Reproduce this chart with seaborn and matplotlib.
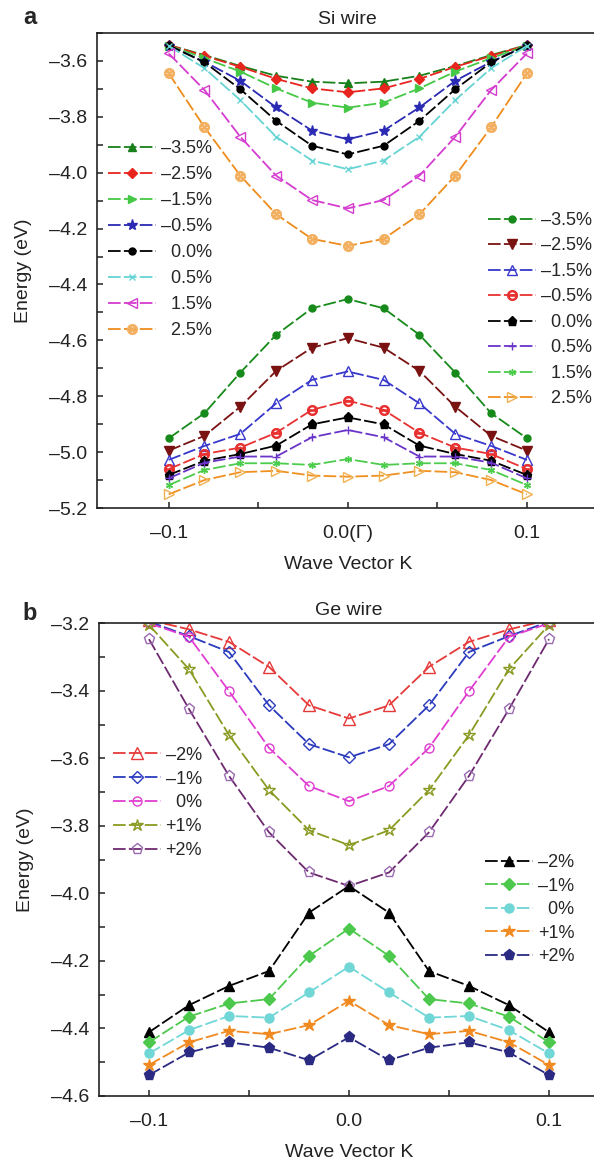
import matplotlib
matplotlib.use("Agg")
import matplotlib.pyplot as plt
import seaborn as sns
from matplotlib.ticker import MultipleLocator

sns.set_style("ticks")
plt.rcParams['font.family'] = ['Liberation Sans', 'DejaVu Sans']
plt.rcParams['mathtext.fontset'] = 'dejavusans'

# ---------------- data ----------------
k_points = [-0.1, -0.08, -0.06, -0.04, -0.02, 0.0, 0.02, 0.04, 0.06, 0.08, 0.1]

si_cb_labels = ["–3.5%", "–2.5%", "–1.5%", "–0.5%", "\u20070.0%", "\u20070.5%", "\u20071.5%", "\u20072.5%"]
si_cb_m35 = [-3.544, -3.580, -3.619, -3.654, -3.675, -3.681, -3.675, -3.654, -3.619, -3.580, -3.544]
si_cb_m25 = [-3.544, -3.583, -3.622, -3.665, -3.699, -3.713, -3.699, -3.665, -3.622, -3.583, -3.544]
si_cb_m15 = [-3.546, -3.591, -3.639, -3.699, -3.750, -3.768, -3.750, -3.699, -3.639, -3.591, -3.546]
si_cb_m05 = [-3.546, -3.604, -3.672, -3.767, -3.850, -3.881, -3.850, -3.767, -3.672, -3.604, -3.546]
si_cb_p00 = [-3.545, -3.606, -3.702, -3.815, -3.904, -3.935, -3.904, -3.815, -3.702, -3.606, -3.545]
si_cb_p05 = [-3.547, -3.627, -3.741, -3.872, -3.957, -3.988, -3.957, -3.872, -3.741, -3.627, -3.547]
si_cb_p15 = [-3.574, -3.705, -3.872, -4.011, -4.098, -4.128, -4.098, -4.011, -3.872, -3.705, -3.574]
si_cb_p25 = [-3.645, -3.838, -4.011, -4.149, -4.237, -4.262, -4.237, -4.149, -4.011, -3.838, -3.645]

si_vb_labels = ["–3.5%", "–2.5%", "–1.5%", "–0.5%", "\u20070.0%", "\u20070.5%", "\u20071.5%", "\u20072.5%"]
si_vb_m35 = [-4.950, -4.860, -4.715, -4.580, -4.485, -4.452, -4.485, -4.580, -4.715, -4.860, -4.950]
si_vb_m25 = [-4.994, -4.941, -4.837, -4.709, -4.626, -4.592, -4.626, -4.709, -4.837, -4.941, -4.994]
si_vb_m15 = [-5.027, -4.977, -4.934, -4.825, -4.741, -4.711, -4.741, -4.825, -4.934, -4.977, -5.027]
si_vb_m05 = [-5.060, -5.006, -4.983, -4.930, -4.848, -4.815, -4.848, -4.930, -4.983, -5.006, -5.060]
si_vb_p00 = [-5.081, -5.030, -5.006, -4.976, -4.900, -4.875, -4.900, -4.976, -5.006, -5.030, -5.081]
si_vb_p05 = [-5.093, -5.037, -5.015, -5.015, -4.946, -4.920, -4.946, -5.015, -5.015, -5.037, -5.093]
si_vb_p15 = [-5.117, -5.063, -5.039, -5.039, -5.045, -5.024, -5.045, -5.039, -5.039, -5.063, -5.117]
si_vb_p25 = [-5.150, -5.099, -5.071, -5.066, -5.083, -5.087, -5.083, -5.066, -5.071, -5.099, -5.150]

ge_cb_labels = ["–2%", "–1%", "\u20070%", "+1%", "+2%"]
ge_cb_m2 = [-3.190, -3.218, -3.255, -3.329, -3.443, -3.482, -3.443, -3.329, -3.255, -3.218, -3.190]
ge_cb_m1 = [-3.195, -3.238, -3.285, -3.443, -3.558, -3.597, -3.558, -3.443, -3.285, -3.238, -3.195]
ge_cb_p0 = [-3.200, -3.240, -3.401, -3.569, -3.682, -3.727, -3.682, -3.569, -3.401, -3.240, -3.200]
ge_cb_p1 = [-3.205, -3.336, -3.531, -3.694, -3.813, -3.857, -3.813, -3.694, -3.531, -3.336, -3.205]
ge_cb_p2 = [-3.247, -3.454, -3.652, -3.819, -3.938, -3.978, -3.938, -3.819, -3.652, -3.454, -3.247]

ge_vb_labels = ["–2%", "–1%", "\u20070%", "+1%", "+2%"]
ge_vb_m2 = [-4.411, -4.331, -4.274, -4.230, -4.057, -3.978, -4.057, -4.230, -4.274, -4.331, -4.411]
ge_vb_m1 = [-4.441, -4.365, -4.326, -4.313, -4.185, -4.104, -4.185, -4.313, -4.326, -4.365, -4.441]
ge_vb_p0 = [-4.474, -4.405, -4.363, -4.368, -4.293, -4.217, -4.293, -4.368, -4.363, -4.405, -4.474]
ge_vb_p1 = [-4.508, -4.441, -4.407, -4.417, -4.390, -4.318, -4.390, -4.417, -4.407, -4.441, -4.508]
ge_vb_p2 = [-4.538, -4.471, -4.441, -4.457, -4.494, -4.426, -4.494, -4.457, -4.441, -4.471, -4.538]

si_xticks = [-0.1, 0.0, 0.1]
si_xtick_labels = ["–0.1", "0.0(Γ)", "0.1"]
ge_xticks = [-0.1, 0.0, 0.1]
ge_xtick_labels = ["–0.1", "0.0", "0.1"]
si_yticks = [-5.2, -5.0, -4.8, -4.6, -4.4, -4.2, -4.0, -3.8, -3.6]
si_ytick_labels = ["–5.2", "–5.0", "–4.8", "–4.6", "–4.4", "–4.2", "–4.0", "–3.8", "–3.6"]
ge_yticks = [-4.6, -4.4, -4.2, -4.0, -3.8, -3.6, -3.4, -3.2]
ge_ytick_labels = ["–4.6", "–4.4", "–4.2", "–4.0", "–3.8", "–3.6", "–3.4", "–3.2"]

# ---------------- styles ----------------
si_cb_series = [si_cb_m35, si_cb_m25, si_cb_m15, si_cb_m05, si_cb_p00, si_cb_p05, si_cb_p15, si_cb_p25]
si_cb_styles = [
    dict(color="#17801a", marker="^", mfc="#17801a", ms=6),
    dict(color="#e8241e", marker="D", mfc="#e8241e", ms=5.5),
    dict(color="#45c845", marker=">", mfc="#45c845", ms=6),
    dict(color="#2a2ab4", marker="*", mfc="#2a2ab4", ms=8),
    dict(color="#000000", marker="o", mfc="#000000", ms=5),
    dict(color="#66d4d4", marker="x", mfc="#66d4d4", ms=5),
    dict(color="#d43ccf", marker="<", mfc="none", ms=7),
    dict(color="#ee8c1c", marker="$\\otimes$", mfc="#f2b060", mec="#f2b060", ms=7),
]
si_vb_series = [si_vb_m35, si_vb_m25, si_vb_m15, si_vb_m05, si_vb_p00, si_vb_p05, si_vb_p15, si_vb_p25]
si_vb_styles = [
    dict(color="#168a1a", marker="o", mfc="#168a1a", ms=5),
    dict(color="#7a1212", marker="v", mfc="#7a1212", ms=6.5),
    dict(color="#3838cc", marker="^", mfc="none", ms=7),
    dict(color="#e83232", marker="$\\ominus$", mfc="#e83232", ms=7),
    dict(color="#000000", marker="p", mfc="#000000", ms=6.5),
    dict(color="#6a34c8", marker="+", mfc="#6a34c8", ms=6),
    dict(color="#4ccc4c", marker=(6, 2, 0), mfc="#4ccc4c", ms=5),
    dict(color="#f09020", marker=">", mfc="none", mec="#f0b050", ms=7),
]
ge_cb_series = [ge_cb_m2, ge_cb_m1, ge_cb_p0, ge_cb_p1, ge_cb_p2]
ge_cb_styles = [
    dict(color="#e63a3a", marker="^", mfc="none", ms=8),
    dict(color="#2b3bbd", marker="D", mfc="none", ms=6.5),
    dict(color="#e03ed0", marker="o", mfc="none", ms=6.5),
    dict(color="#8a9a22", marker="*", mfc="none", ms=9),
    dict(color="#6e2a70", marker="p", mfc="none", ms=8, mec="#9a6ab0"),
]
ge_vb_series = [ge_vb_m2, ge_vb_m1, ge_vb_p0, ge_vb_p1, ge_vb_p2]
ge_vb_styles = [
    dict(color="#000000", marker="^", mfc="#000000", ms=7.5),
    dict(color="#4cc84c", marker="D", mfc="#4cc84c", ms=6.5),
    dict(color="#70d6d6", marker="o", mfc="#70d6d6", ms=6.5),
    dict(color="#f08a20", marker="*", mfc="#f08a20", ms=9),
    dict(color="#2a2a82", marker="p", mfc="#2a2a82", ms=8),
]

DASH = (0, (7, 1.8))


def draw(ax, series, styles):
    handles = []
    for vals, st in zip(series, styles):
        sns.lineplot(x=k_points, y=vals, ax=ax, color=st["color"], linewidth=1.3,
                     linestyle=DASH, marker=st["marker"], markersize=st["ms"],
                     markerfacecolor=st["mfc"], markeredgecolor=st.get("mec", st["color"]),
                     markeredgewidth=1.0, errorbar=None, legend=False)
        handles.append(ax.lines[-1])
    return handles


W, H = 594, 1159
fig = plt.figure(figsize=(W / 100, H / 100), dpi=100)

ax_a = fig.add_axes([97 / W, 1 - 508.3 / H, 501.6 / W, 475.6 / H])
ax_b = fig.add_axes([99 / W, 1 - 1096 / H, 500 / W, 472.7 / H])

h_cb = draw(ax_a, si_cb_series, si_cb_styles)
h_vb = draw(ax_a, si_vb_series, si_vb_styles)
g_cb = draw(ax_b, ge_cb_series, ge_cb_styles)
g_vb = draw(ax_b, ge_vb_series, ge_vb_styles)

leg_kw = dict(frameon=False, loc="upper left", borderpad=0, borderaxespad=0,
              handlelength=2.66, handletextpad=0.28, numpoints=1, fontsize=13)
l1 = ax_a.legend(h_cb, si_cb_labels, bbox_to_anchor=(0.022, 0.774), labelspacing=0.50, **leg_kw)
ax_a.add_artist(l1)
ax_a.legend(h_vb, si_vb_labels, bbox_to_anchor=(0.7795, 0.623), labelspacing=0.47, **leg_kw)
l3 = ax_b.legend(g_cb, ge_cb_labels, bbox_to_anchor=(0.027, 0.739), labelspacing=0.38, **leg_kw)
ax_b.add_artist(l3)
ax_b.legend(g_vb, ge_vb_labels, bbox_to_anchor=(0.772, 0.5115), labelspacing=0.36, **leg_kw)

for ax, xl, yl, xt, xtl, yt, ytl, title in [
    (ax_a, (-0.14, 0.14), (-5.2, -3.5), si_xticks, si_xtick_labels, si_yticks, si_ytick_labels, "Si wire"),
    (ax_b, (-0.125, 0.125), (-4.6, -3.2), ge_xticks, ge_xtick_labels, ge_yticks, ge_ytick_labels, "Ge wire"),
]:
    ax.set_xlim(*xl)
    ax.set_ylim(*yl)
    ax.set_xticks(xt)
    ax.set_xticklabels(xtl)
    ax.set_yticks(yt)
    ax.set_yticklabels(ytl)
    ax.xaxis.set_minor_locator(MultipleLocator(0.05))
    ax.yaxis.set_minor_locator(MultipleLocator(0.1))
    ax.tick_params(axis="both", which="both", direction="in", length=4, width=1.1,
                   labelsize=14, colors="#222222", top=False, right=False)
    ax.tick_params(axis="x", which="major", pad=12)
    ax.tick_params(axis="y", which="major", pad=7)
    for s in ax.spines.values():
        s.set_linewidth(1.2)
        s.set_color("#222222")
    ax.set_xlabel("Wave Vector K", fontsize=14, labelpad=10, color="#222222")
    ax.set_ylabel("Energy (eV)", fontsize=14, labelpad=12, color="#222222")
    ax.set_title(title, fontsize=14, pad=6, color="#222222")

fig.text(30 / W, 1 - 18 / H, "a", fontsize=17, fontweight="bold", ha="center", va="center")
fig.text(30 / W, 1 - 614 / H, "b", fontsize=17, fontweight="bold", ha="center", va="center")

fig.savefig("out.png", dpi=100)
